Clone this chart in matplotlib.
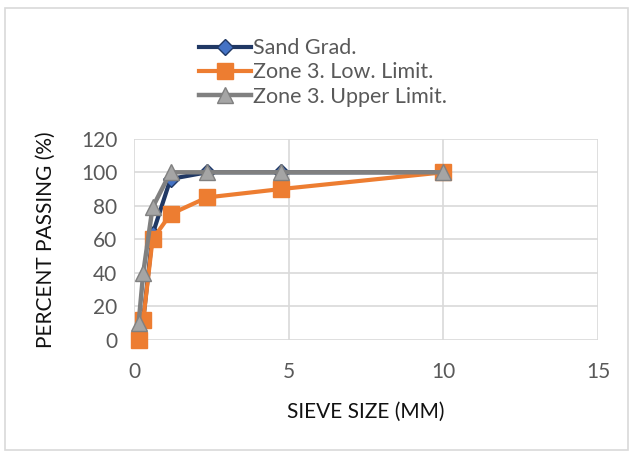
import matplotlib.pyplot as plt
from matplotlib.patches import Rectangle

# sieve sizes (mm) and percent passing
sieve_size = [0.15, 0.3, 0.6, 1.18, 2.36, 4.75, 10]
sand_grad = [2, 12, 63, 96, 100, 100, 100]
zone3_low = [0, 12, 60, 75, 85, 90, 100]
zone3_upper = [10, 40, 79, 100, 100, 100, 100]

x_ticks = [0, 5, 10, 15]
y_ticks = [0, 20, 40, 60, 80, 100, 120]

plt.rcParams['font.family'] = ['Lato', 'DejaVu Sans']

fig = plt.figure(figsize=(6.35, 4.55), dpi=100)
fig.patches.append(Rectangle((0.008, 0.011), 0.981, 0.971, transform=fig.transFigure,
                             fill=False, edgecolor='#D9D9D9', linewidth=1.2))

ax = fig.add_axes([0.211, 0.253, 0.731, 0.442])

l1, = ax.plot(sieve_size, sand_grad, color='#203864', linewidth=3,
              marker='D', markersize=8, markerfacecolor='#4472C4',
              markeredgecolor='#203864', markeredgewidth=1, zorder=3, clip_on=False)
l2, = ax.plot(sieve_size, zone3_low, color='#ED7D31', linewidth=3,
              marker='s', markersize=11, markerfacecolor='#ED7D31',
              markeredgecolor='#ED7D31', zorder=4, clip_on=False)
l3, = ax.plot(sieve_size, zone3_upper, color='#808080', linewidth=3.2,
              marker='^', markersize=12, markerfacecolor='#A5A5A5',
              markeredgecolor='#808080', markeredgewidth=1, zorder=5, clip_on=False)

ax.set_xlim(0, 15)
ax.set_ylim(0, 120)
ax.set_xticks(x_ticks)
ax.set_yticks(y_ticks)
ax.tick_params(length=0, labelsize=15, labelcolor='#595959')
ax.tick_params(axis='x', pad=16)
ax.tick_params(axis='y', pad=12)
ax.grid(True, color='#D9D9D9', linewidth=1.2)
ax.set_axisbelow(True)
for s in ax.spines.values():
    s.set_visible(False)

ax.set_xlabel('SIEVE SIZE (MM)', fontsize=15, color='#111111', labelpad=14)
ax.set_ylabel('PERCENT PASSING (%)', fontsize=15, color='#111111', labelpad=18)

fig.legend([l1, l2, l3], ['Sand Grad.', 'Zone 3. Low. Limit.', 'Zone 3. Upper Limit.'],
           loc='upper left', bbox_to_anchor=(0.3, 0.935), frameon=False,
           fontsize=15.5, labelcolor='#595959', handlelength=2.4, handletextpad=0.1,
           labelspacing=0.2, borderaxespad=0)

fig.savefig('out.png', dpi=100)
